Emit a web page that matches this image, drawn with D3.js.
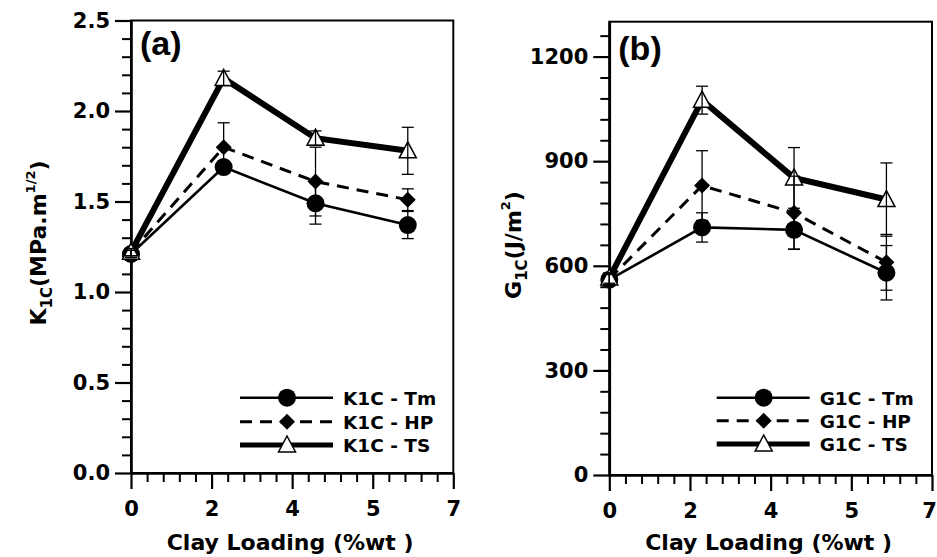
<!DOCTYPE html>
<html>
<head>
<meta charset="utf-8">
<script src="https://cdn.jsdelivr.net/npm/d3@7"></script>
<style>
  html, body { margin: 0; padding: 0; background: #fff; }
  svg { display: block; }
</style>
</head>
<body>
<script>
// Clay loading positions (axis units) shared by both panels
const clayLoading = [0, 2.3, 4.58, 6.87];
// Major x-tick values and the labels printed under them
const xMajorTicks = [0, 2, 4, 6, 8];
const xTickLabels = ["0", "2", "4", "5", "7"];

// Panel (a): fracture toughness K1C (MPa.m^1/2)
const k1cTm = [1.21, 1.69, 1.49, 1.37];
const k1cTmErr = [0.02, 0.03, 0.115, 0.075];
const k1cHP = [1.22, 1.80, 1.61, 1.51];
const k1cHPErr = [0.02, 0.135, 0.19, 0.06];
const k1cTS = [1.22, 2.18, 1.85, 1.78];
const k1cTSErr = [0.02, 0.04, 0.04, 0.13];
const kTicks = [0, 0.5, 1.0, 1.5, 2.0, 2.5];

// Panel (b): fracture energy G1C (J/m^2)
const g1cTm = [560, 710, 703, 580];
const g1cTmErr = [15, 42, 55, 78];
const g1cHP = [562, 830, 752, 610];
const g1cHPErr = [15, 100, 105, 80];
const g1cTS = [565, 1075, 852, 790];
const g1cTSErr = [15, 40, 87, 105];
const gTicks = [0, 300, 600, 900, 1200];

const seriesStyles = {
  Tm: { width: 2.6, dash: null, marker: "circle" },
  HP: { width: 3, dash: "12,8", marker: "diamond" },
  TS: { width: 6, dash: null, marker: "triangle" }
};

const svg = d3.select("body").append("svg")
  .attr("width", 937).attr("height", 557);

const tickFont = "'DejaVu Sans', sans-serif";

function drawMarker(g, type, cx, cy) {
  if (type === "circle") {
    g.append("circle").attr("cx", cx).attr("cy", cy).attr("r", 9).attr("fill", "#000");
  } else if (type === "diamond") {
    g.append("path")
      .attr("d", `M${cx},${cy - 8}L${cx + 8},${cy}L${cx},${cy + 8}L${cx - 8},${cy}Z`)
      .attr("fill", "#000");
  } else {
    g.append("path")
      .attr("d", `M${cx},${cy - 9}L${cx + 8.5},${cy + 7}L${cx - 8.5},${cy + 7}Z`)
      .attr("fill", "#fff").attr("stroke", "#000").attr("stroke-width", 1.5);
  }
}

function drawPanel(p) {
  const x = d3.scaleLinear().domain([0, 8]).range([p.left, p.right]);
  const y = d3.scaleLinear().domain([0, p.yMax]).range([p.bottom, p.top]);
  const g = svg.append("g");

  // frame
  g.append("rect")
    .attr("x", p.left).attr("y", y(p.yMax))
    .attr("width", p.right - p.left).attr("height", p.bottom - y(p.yMax))
    .attr("fill", "none").attr("stroke", "#000").attr("stroke-width", 2);

  // minor ticks
  const yMinor = d3.range(0, p.yMax + 1e-9, p.yMinorStep)
    .filter(v => !p.yTicks.some(t => Math.abs(t - v) < 1e-6));
  g.append("g").attr("transform", `translate(${p.left},0)`)
    .call(d3.axisLeft(y).tickValues(yMinor).tickSize(9).tickFormat(""))
    .call(a => a.select(".domain").remove())
    .selectAll("line").attr("stroke-width", 2);
  const xMinor = d3.range(0, 8.001, 0.4)
    .filter(v => !xMajorTicks.some(t => Math.abs(t - v) < 1e-6));
  g.append("g").attr("transform", `translate(0,${p.bottom})`)
    .call(d3.axisBottom(x).tickValues(xMinor).tickSize(9).tickFormat(""))
    .call(a => a.select(".domain").remove())
    .selectAll("line").attr("stroke-width", 2);

  // major axes
  const ya = g.append("g").attr("transform", `translate(${p.left},0)`)
    .call(d3.axisLeft(y).tickValues(p.yTicks).tickSize(16).tickPadding(5)
      .tickFormat(p.yFormat).tickSizeOuter(0));
  ya.select(".domain").attr("stroke-width", 2.6);
  ya.selectAll("line").attr("stroke-width", 2.2);
  ya.selectAll("text").attr("font-family", tickFont).attr("font-weight", "bold")
    .attr("font-size", 21).attr("fill", "#000");

  const xa = g.append("g").attr("transform", `translate(0,${p.bottom})`)
    .call(d3.axisBottom(x).tickValues(xMajorTicks).tickSize(16).tickPadding(12)
      .tickFormat((d, i) => xTickLabels[i]).tickSizeOuter(0));
  xa.select(".domain").attr("stroke-width", 2.4);
  xa.selectAll("line").attr("stroke-width", 2.2);
  xa.selectAll("text").attr("font-family", tickFont).attr("font-weight", "bold")
    .attr("font-size", 21).attr("fill", "#000")
    .attr("dx", (d, i) => i === xMajorTicks.length - 1 ? p.lastLabelShift : 0);

  // axis titles
  g.append("text")
    .attr("x", (p.left + p.right) / 2 - 2).attr("y", 550)
    .attr("text-anchor", "middle")
    .attr("font-family", tickFont).attr("font-weight", "bold").attr("font-size", 22)
    .text("Clay Loading (%wt )");

  const yt = g.append("text")
    .attr("transform", `translate(${p.yTitleX},${p.yTitleY}) rotate(-90)`)
    .attr("text-anchor", "middle")
    .attr("font-family", tickFont).attr("font-weight", "bold").attr("font-size", 22);
  yt.append("tspan").text(p.yTitle[0]);
  yt.append("tspan").attr("font-size", 15).attr("dy", 6).text("1C");
  yt.append("tspan").attr("dy", -6).text(p.yTitle[1]);
  yt.append("tspan").attr("font-size", 13).attr("dy", -11).text(p.yTitle[2]);
  yt.append("tspan").attr("dy", 11).text(")");

  // panel tag
  g.append("text").attr("x", p.left + 9).attr("y", p.tagY)
    .attr("font-family", "'Liberation Sans', Arial, sans-serif")
    .attr("font-weight", "bold").attr("font-size", 34).text(p.tag);

  // series lines
  const line = d3.line().x(d => x(d[0])).y(d => y(d[1]));
  p.series.forEach(s => {
    const st = seriesStyles[s.key];
    g.append("path")
      .attr("d", line(clayLoading.map((c, i) => [c, s.values[i]])))
      .attr("fill", "none").attr("stroke", "#000")
      .attr("stroke-width", st.width)
      .attr("stroke-dasharray", st.dash)
      .attr("stroke-linejoin", "miter");
  });

  // markers
  p.series.forEach(s => {
    const st = seriesStyles[s.key];
    s.values.forEach((v, i) => drawMarker(g, st.marker, x(clayLoading[i]), y(v)));
  });

  // error bars
  p.series.forEach(s => {
    s.values.forEach((v, i) => {
      const cx = x(clayLoading[i]);
      const lo = y(v - s.err[i]), hi = y(v + s.err[i]);
      g.append("line").attr("x1", cx).attr("x2", cx).attr("y1", lo).attr("y2", hi)
        .attr("stroke", "#000").attr("stroke-width", 1.3);
      [lo, hi].forEach(yy => g.append("line")
        .attr("x1", cx - 6).attr("x2", cx + 6).attr("y1", yy).attr("y2", yy)
        .attr("stroke", "#000").attr("stroke-width", 1.3));
    });
  });

  // legend
  p.series.forEach((s, i) => {
    const st = seriesStyles[s.key];
    const ly = p.legendY[i];
    g.append("line")
      .attr("x1", p.legendX).attr("x2", p.legendX + 93)
      .attr("y1", ly).attr("y2", ly)
      .attr("stroke", "#000").attr("stroke-width", st.width === 6 ? 5 : st.width)
      .attr("stroke-dasharray", st.dash);
    drawMarker(g, st.marker, p.legendX + 47, ly);
    g.append("text").attr("x", p.legendX + 103).attr("y", ly + 7)
      .attr("font-family", tickFont).attr("font-weight", "bold").attr("font-size", 18.5)
      .text(s.label);
  });
}

drawPanel({
  left: 131, right: 453.3, top: 20.5, bottom: 473,
  yMax: 2.5, yTicks: kTicks, yMinorStep: 0.1, yFormat: d3.format(".1f"),
  yTitle: ["K", "(MPa.m", "1/2"], yTitleX: 46, yTitleY: 243,
  tag: "(a)", tagY: 55, lastLabelShift: 0,
  legendX: 240, legendY: [397.7, 421.7, 445],
  series: [
    { key: "Tm", label: "K1C - Tm", values: k1cTm, err: k1cTmErr },
    { key: "HP", label: "K1C - HP", values: k1cHP, err: k1cHPErr },
    { key: "TS", label: "K1C - TS", values: k1cTS, err: k1cTSErr }
  ]
});

drawPanel({
  left: 609.3, right: 932, top: 21.7, bottom: 475,
  yMax: 1300, yTicks: gTicks, yMinorStep: 60, yFormat: d3.format("d"),
  yTitle: ["G", "(J/m", "2"], yTitleX: 521, yTitleY: 245,
  tag: "(b)", tagY: 60, lastLabelShift: -3,
  legendX: 716.7, legendY: [397.7, 420.7, 444],
  series: [
    { key: "Tm", label: "G1C - Tm", values: g1cTm, err: g1cTmErr },
    { key: "HP", label: "G1C - HP", values: g1cHP, err: g1cHPErr },
    { key: "TS", label: "G1C - TS", values: g1cTS, err: g1cTSErr }
  ]
});
</script>
</body>
</html>
